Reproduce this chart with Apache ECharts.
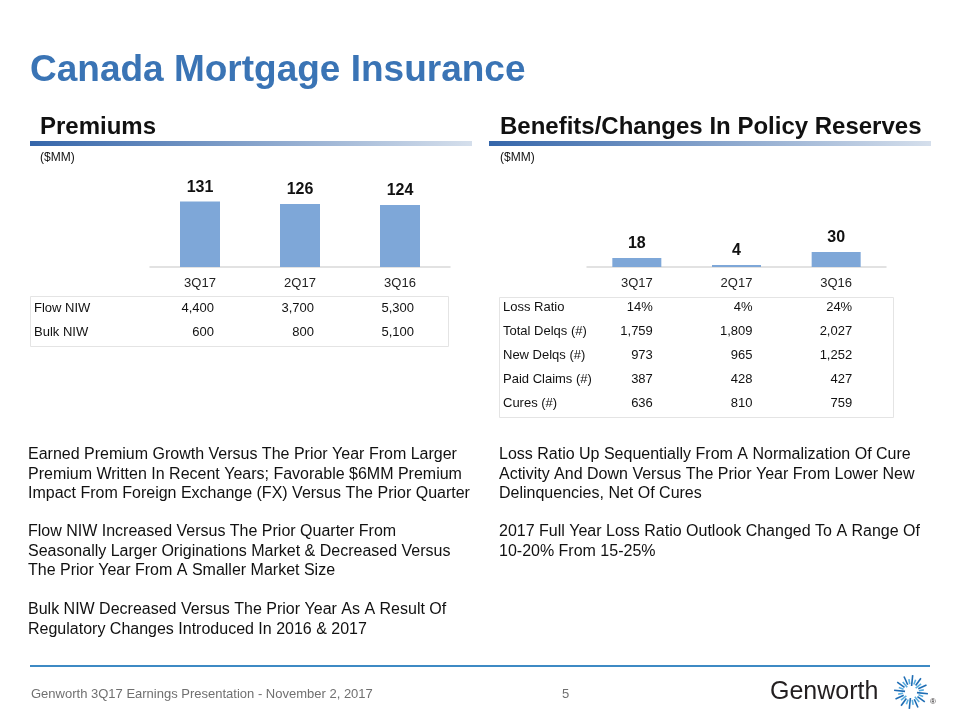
<!DOCTYPE html>
<html>
<head>
<meta charset="utf-8">
<script src="https://cdn.jsdelivr.net/npm/echarts@6/dist/echarts.min.js"></script>
<style>
html,body{margin:0;padding:0;background:#fff;}
#main{width:960px;height:720px;}
</style>
</head>
<body>
<div id="main"></div>
<script>
// ---- data ----
const categories = ['3Q17', '2Q17', '3Q16'];
const premiums = [131, 126, 124];
const benefits = [18, 4, 30];
const flowNIW = [4400, 3700, 5300];
const bulkNIW = [600, 800, 5100];
const lossRatio = [14, 4, 24];
const totalDelqs = [1759, 1809, 2027];
const newDelqs = [973, 965, 1252];
const paidClaims = [387, 428, 427];
const cures = [636, 810, 759];
const leftRowLabels = ['Flow NIW', 'Bulk NIW'];
const rightRowLabels = ['Loss Ratio', 'Total Delqs (#)', 'New Delqs (#)', 'Paid Claims (#)', 'Cures (#)'];
const leftNotes = [
  ['Earned Premium Growth Versus The Prior Year From Larger',
   'Premium Written In Recent Years; Favorable $6MM Premium',
   'Impact From Foreign Exchange (FX) Versus The Prior Quarter'],
  ['Flow NIW Increased Versus The Prior Quarter From',
   'Seasonally Larger Originations Market & Decreased Versus',
   'The Prior Year From A Smaller Market Size'],
  ['Bulk NIW Decreased Versus The Prior Year As A Result Of',
   'Regulatory Changes Introduced In 2016 & 2017']
];
const rightNotes = [
  ['Loss Ratio Up Sequentially From A Normalization Of Cure',
   'Activity And Down Versus The Prior Year From Lower New',
   'Delinquencies, Net Of Cures'],
  ['2017 Full Year Loss Ratio Outlook Changed To A Range Of',
   '10-20% From 15-25%']
];

const FONT = "'Liberation Sans', Arial, Helvetica, sans-serif";
const fmt = v => v.toLocaleString('en-US');
const pct = v => v + '%';

const chart = echarts.init(document.getElementById('main'), null, {renderer: 'canvas'});

const axisCommon = {
  type: 'category',
  axisLine: {lineStyle: {color: '#d9d9d9', width: 1.5}},
  axisTick: {show: false},
  axisLabel: {color: '#222', fontSize: 13, fontFamily: FONT, margin: 10}
};
const labelCommon = {
  show: true, position: 'top', distance: 6,
  fontSize: 16, fontWeight: 'bold', color: '#111', fontFamily: FONT
};

chart.setOption({
  animation: false,
  backgroundColor: '#fff',
  grid: [
    {left: 150, top: 167, width: 300, height: 100},
    {left: 587, top: 167, width: 299, height: 100}
  ],
  xAxis: [
    Object.assign({gridIndex: 0, data: categories}, axisCommon),
    Object.assign({gridIndex: 1, data: categories}, axisCommon)
  ],
  yAxis: [
    {type: 'value', gridIndex: 0, min: 0, max: 200, show: false},
    {type: 'value', gridIndex: 1, min: 0, max: 200, show: false}
  ],
  series: [
    {type: 'bar', xAxisIndex: 0, yAxisIndex: 0, data: premiums, barWidth: 40,
     itemStyle: {color: '#7EA7D8'}, label: labelCommon},
    {type: 'bar', xAxisIndex: 1, yAxisIndex: 1, data: benefits, barWidth: 49,
     itemStyle: {color: '#7EA7D8'}, label: labelCommon}
  ]
});

// ---- graphics (text, tables, decorations) ----
const g = [];
function txt(x, y, s, opt) {
  g.push({type: 'text', x: x, y: y, silent: true, style: Object.assign({
    text: s, fill: '#111', font: '13px ' + FONT, textAlign: 'left', textVerticalAlign: 'middle'
  }, opt || {})});
}
function line(x1, y1, x2, y2, stroke, w) {
  g.push({type: 'line', silent: true, shape: {x1, y1, x2, y2}, style: {stroke: stroke, lineWidth: w}});
}

// title
txt(30, 71, 'Canada Mortgage Insurance', {fill: '#3A74B5', font: 'bold 37px ' + FONT});
// section headings
txt(40, 127, 'Premiums', {font: 'bold 24px ' + FONT});
txt(500, 127, 'Benefits/Changes In Policy Reserves', {font: 'bold 24px ' + FONT});
const grad = new echarts.graphic.LinearGradient(0, 0, 1, 0, [
  {offset: 0, color: '#3566AA'}, {offset: 1, color: '#D5DFEC'}]);
g.push({type: 'rect', silent: true, shape: {x: 30, y: 141, width: 442, height: 5}, style: {fill: grad}});
g.push({type: 'rect', silent: true, shape: {x: 489, y: 141, width: 442, height: 5}, style: {fill: grad}});
txt(40, 158, '($MM)', {font: '12px ' + FONT});
txt(500, 158, '($MM)', {font: '12px ' + FONT});

// tables
const lx = categories.map(c => chart.convertToPixel({xAxisIndex: 0}, c));
const rx = categories.map(c => chart.convertToPixel({xAxisIndex: 1}, c));

g.push({type: 'rect', silent: true, shape: {x: 30.5, y: 296.5, width: 418, height: 50},
  style: {fill: 'none', stroke: '#E4E4E4', lineWidth: 1}});
const leftRows = [flowNIW.map(fmt), bulkNIW.map(fmt)];
leftRows.forEach((row, i) => {
  const y = 308.5 + i * 23.5;
  txt(34, y, leftRowLabels[i]);
  row.forEach((v, j) => txt(lx[j] + 14, y, v, {textAlign: 'right'}));
});

g.push({type: 'rect', silent: true, shape: {x: 499.5, y: 297.5, width: 394, height: 120},
  style: {fill: 'none', stroke: '#E4E4E4', lineWidth: 1}});
const rightRows = [lossRatio.map(pct), totalDelqs.map(fmt), newDelqs.map(fmt), paidClaims.map(fmt), cures.map(fmt)];
rightRows.forEach((row, i) => {
  const y = 307.5 + i * 23.9;
  txt(503, y, rightRowLabels[i]);
  row.forEach((v, j) => txt(rx[j] + 16, y, v, {textAlign: 'right'}));
});

// notes
function notes(paras, x, starts) {
  paras.forEach((p, pi) => p.forEach((s, li) => txt(x, starts[pi] + li * 19.4, s, {font: '16px ' + FONT})));
}
notes(leftNotes, 28, [455, 532, 610]);
notes(rightNotes, 499, [455, 532]);

// footer
line(30, 666, 930, 666, '#3D8AC4', 2);
txt(31, 694, 'Genworth 3Q17 Earnings Presentation - November 2, 2017', {fill: '#707070', font: '13px ' + FONT});
txt(562, 694, '5', {fill: '#707070', font: '13px ' + FONT});
txt(770, 692, 'Genworth', {fill: '#231F20', font: '25px ' + FONT});
// starburst
const cx = 911, cy = 692;
for (let k = 0; k < 24; k++) {
  const a = k * Math.PI * 2 / 24 + 0.1;
  const r0 = (k % 3 === 0) ? 6 : 8, r1 = (k % 2 === 0) ? 17 : 13;
  line(cx + r0 * Math.cos(a), cy + r0 * Math.sin(a), cx + r1 * Math.cos(a), cy + r1 * Math.sin(a),
       (k % 2 === 0) ? '#1F6DB4' : '#5AAFE0', 1.6);
}
txt(930, 702, '®', {fill: '#231F20', font: '8px ' + FONT});

chart.setOption({graphic: {elements: g}});
</script>
</body>
</html>
